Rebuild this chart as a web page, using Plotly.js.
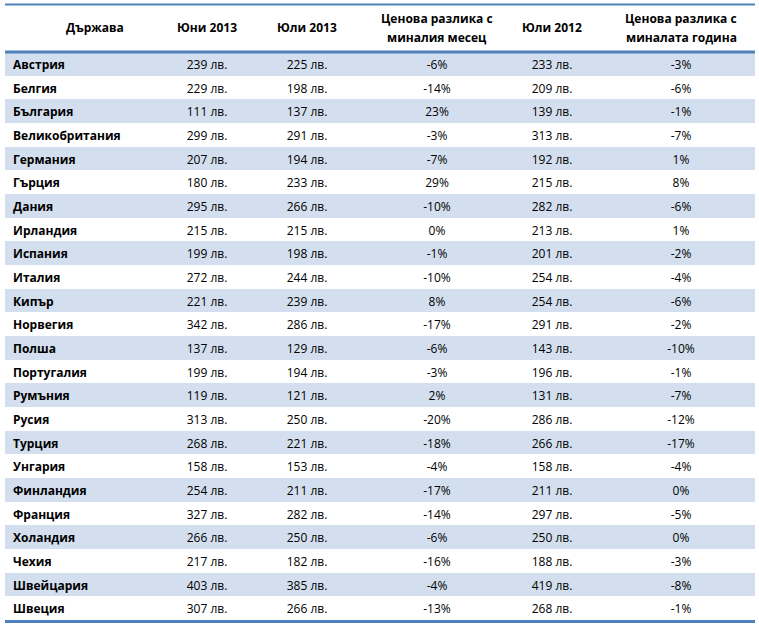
<!DOCTYPE html>
<html><head><meta charset="utf-8">
<script src="https://cdn.plot.ly/plotly-3.0.1.min.js"></script>
<style>html,body{margin:0;padding:0;background:#fff}</style>
</head><body><div id="c" style="width:759px;height:625px"></div>
<script>
const headers = ["Държава","Юни 2013","Юли 2013","Ценова разлика с<br>миналия месец","Юли 2012","Ценова разлика с<br>миналата година"];
const countries = ["Австрия","Белгия","България","Великобритания","Германия","Гърция","Дания","Ирландия","Испания","Италия","Кипър","Норвегия","Полша","Португалия","Румъния","Русия","Турция","Унгария","Финландия","Франция","Холандия","Чехия","Швейцария","Швеция"];
const jun2013 = [239,229,111,299,207,180,295,215,199,272,221,342,137,199,119,313,268,158,254,327,266,217,403,307];
const jul2013 = [225,198,137,291,194,233,266,215,198,244,239,286,129,194,121,250,221,153,211,282,250,182,385,266];
const diffMonth = [-6,-14,23,-3,-7,29,-10,0,-1,-10,8,-17,-6,-3,2,-20,-18,-4,-17,-14,-6,-16,-4,-13];
const jul2012 = [233,209,139,313,192,215,282,213,201,254,254,291,143,196,131,286,266,158,211,297,250,188,419,268];
const diffYear = [-3,-6,-1,-7,1,8,-6,1,-2,-4,-6,-2,-10,-1,-7,-12,-17,-4,0,-5,0,-3,-8,-1];

const W = 759, H = 625;
const px = x => x / W, py = y => 1 - y / H;
const lv = v => v + " лв.";
const pc = v => v + "%";
const shade = "#d3dfee";
const fills = countries.map((_, i) => i % 2 === 0 ? shade : "#ffffff");
const empty = countries.map(() => "");
const FONT = "Open Sans, sans-serif";

// column layout: country, jun, jul, diffM, jul12, spacer, diffY
const colW = [152, 100, 100, 160, 70, 20, 148];
const nCols = colW.length;
const tbl = {
  type: "table",
  domain: {x: [px(5), px(755)], y: [py(620), py(5)]},
  columnwidth: colW,
  header: {
    values: colW.map(() => ""),
    height: 47,
    fill: {color: "#ffffff"},
    line: {width: 0, color: "rgba(0,0,0,0)"}
  },
  cells: {
    values: [countries, jun2013.map(lv), jul2013.map(lv), diffMonth.map(pc), jul2012.map(lv), empty, diffYear.map(pc)],
    align: ["left","center","center","center","center","center","center"],
    fill: {color: colW.map(() => fills)},
    line: {width: 0, color: "rgba(0,0,0,0)"},
    font: {family: FONT, size: 12, color: "#000", weight: ["bold","normal","normal","normal","normal","normal","normal"]},
    height: 568 / 24
  }
};

const hx = [95, 207, 307, 437, 552, 681];
const annotations = [];
headers.forEach((h, i) => {
  const parts = h.split("<br>");
  const ys = parts.length === 1 ? [28] : [18, 38];
  parts.forEach((p, k) => annotations.push({
    xref: "paper", yref: "paper", x: px(hx[i]), y: py(ys[k]),
    xanchor: "center", yanchor: "middle",
    text: p, showarrow: false,
    font: {family: FONT, size: 12, color: "#000", weight: "bold"}
  }));
});

const line = (y, w) => ({type: "line", xref: "paper", yref: "paper", x0: px(5), x1: px(755), y0: py(y), y1: py(y), line: {color: "#4f81bd", width: w}, layer: "above"});

Plotly.newPlot("c", [tbl], {
  width: W, height: H, margin: {l: 0, r: 0, t: 0, b: 0},
  paper_bgcolor: "#fff",
  annotations,
  shapes: [line(4.5, 2), line(52, 3), line(621.5, 3)]
}, {displayModeBar: false, staticPlot: true});
</script></body></html>
